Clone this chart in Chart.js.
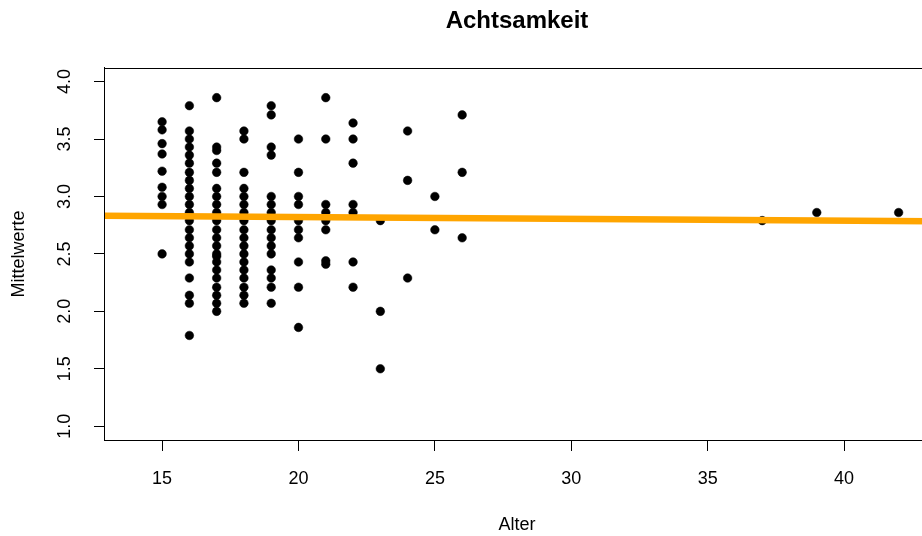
<!DOCTYPE html>
<html>
<head>
<meta charset="utf-8">
<script src="https://cdn.jsdelivr.net/npm/chart.js@4"></script>
<style>
  html, body { margin: 0; padding: 0; background: #ffffff; overflow: hidden; }
  #wrap { width: 940px; height: 536px; }
</style>
</head>
<body>
<div id="wrap"><canvas id="c" width="940" height="536"></canvas></div>
<script>
// ---- data ----
const titleText = "Achtsamkeit";
const xTitle = "Alter";
const yTitle = "Mittelwerte";

const xTicks = [15, 20, 25, 30, 35, 40];
const yTicks = [1.0, 1.5, 2.0, 2.5, 3.0, 3.5, 4.0];

const age15 = [3.65, 3.58, 3.46, 3.37, 3.22, 3.08, 3.0, 2.93, 2.5];
const age16 = [3.79, 3.57, 3.5, 3.43, 3.36, 3.29, 3.21, 3.14, 3.07, 3.0, 2.93, 2.86, 2.83, 2.79, 2.71, 2.64, 2.57, 2.5, 2.43, 2.29, 2.14, 2.07, 1.79];
const age17 = [3.86, 3.43, 3.4, 3.29, 3.21, 3.07, 3.0, 2.93, 2.86, 2.79, 2.71, 2.64, 2.57, 2.5, 2.48, 2.43, 2.36, 2.29, 2.21, 2.14, 2.07, 2.0];
const age18 = [3.57, 3.5, 3.21, 3.07, 3.0, 2.93, 2.86, 2.79, 2.71, 2.64, 2.57, 2.5, 2.43, 2.36, 2.29, 2.21, 2.14, 2.07];
const age19 = [3.79, 3.71, 3.43, 3.36, 3.0, 2.93, 2.86, 2.79, 2.71, 2.64, 2.57, 2.5, 2.36, 2.29, 2.21, 2.07];
const age20 = [3.5, 3.21, 3.0, 2.93, 2.79, 2.71, 2.64, 2.43, 2.21, 1.86];
const age21 = [3.86, 3.5, 2.93, 2.86, 2.79, 2.71, 2.44, 2.41];
const age22 = [3.64, 3.5, 3.29, 2.93, 2.86, 2.43, 2.21];
const age23 = [2.79, 2.0, 1.5];
const age24 = [3.57, 3.14, 2.29];
const age25 = [3.0, 2.71];
const age26 = [3.71, 3.21, 2.64];
const age37 = [2.79];
const age39 = [2.86];
const age42 = [2.86];

const ages = [15, 16, 17, 18, 19, 20, 21, 22, 23, 24, 25, 26, 37, 39, 42];
const valuesByAge = [age15, age16, age17, age18, age19, age20, age21, age22, age23, age24, age25, age26, age37, age39, age42];

// regression line (endpoints at the axis limits)
const fitX = [12.87, 43.15];
const fitY = [2.833, 2.785];

const xRange = [12.87, 43.15];
const yRange = [0.88, 4.12];

// ---- build ----
const points = [];
ages.forEach((a, i) => valuesByAge[i].forEach(v => points.push({ x: a, y: v })));
const fitLine = fitX.map((x, i) => ({ x: x, y: fitY[i] }));

const FONT = "'Liberation Sans', Arial, Helvetica, sans-serif";

const framePlugin = {
  id: 'frame',
  afterDraw(chart) {
    const { ctx, chartArea: a } = chart;
    ctx.save();
    ctx.strokeStyle = '#000';
    ctx.lineWidth = 1;
    ctx.strokeRect(Math.round(a.left) + 0.5, Math.round(a.top) + 0.5, Math.round(a.right - a.left), Math.round(a.bottom - a.top));
    ctx.restore();
  }
};

new Chart(document.getElementById('c'), {
  type: 'scatter',
  data: {
    datasets: [
      {
        type: 'line',
        label: 'fit',
        data: fitLine,
        borderColor: '#FFA500',
        borderWidth: 6.5,
        pointRadius: 0,
        fill: false,
        order: 0
      },
      {
        label: 'Mittelwerte',
        data: points,
        backgroundColor: '#000000',
        borderColor: '#000000',
        pointRadius: 4.3,
        pointBorderWidth: 0.5,
        order: 1
      }
    ]
  },
  plugins: [framePlugin],
  options: {
    responsive: false,
    animation: false,
    devicePixelRatio: 1,
    layout: { padding: { top: 0, right: 10, bottom: 0, left: 0 } },
    plugins: {
      legend: { display: false },
      tooltip: { enabled: false },
      title: {
        display: true,
        text: titleText,
        fullSize: false,
        color: '#000',
        font: { family: FONT, size: 24, weight: 'bold', lineHeight: 1.2 },
        padding: { top: 7, bottom: 32 }
      }
    },
    scales: {
      x: {
        type: 'linear',
        min: xRange[0],
        max: xRange[1],
        afterBuildTicks: (s) => { s.ticks = xTicks.map(v => ({ value: v })); },
        afterFit: (s) => { s.height = 96; },
        ticks: {
          color: '#000',
          font: { family: FONT, size: 18 },
          padding: 17,
          maxRotation: 0,
          callback: (v) => String(v)
        },
        grid: { display: true, drawOnChartArea: false, drawTicks: true, tickLength: 11, color: '#000', tickColor: '#000', lineWidth: 1 },
        border: { display: true, color: '#000', width: 1 },
        title: {
          display: true,
          text: xTitle,
          color: '#000',
          font: { family: FONT, size: 18 },
          padding: { top: 0, bottom: 0 }
        }
      },
      y: {
        type: 'linear',
        min: yRange[0],
        max: yRange[1],
        afterBuildTicks: (s) => { s.ticks = yTicks.map(v => ({ value: v })); },
        afterFit: (s) => { s.width = 104; },
        ticks: {
          color: '#000',
          font: { family: FONT, size: 18 },
          padding: 16,
          minRotation: 90,
          maxRotation: 90,
          crossAlign: 'center',
          callback: (v) => Number(v).toFixed(1)
        },
        grid: { display: true, drawOnChartArea: false, drawTicks: true, tickLength: 10, color: '#000', tickColor: '#000', lineWidth: 1 },
        border: { display: true, color: '#000', width: 1 },
        title: {
          display: true,
          text: yTitle,
          color: '#000',
          font: { family: FONT, size: 18 },
          padding: { top: 8, bottom: 0 }
        }
      }
    }
  }
});
</script>
</body>
</html>
